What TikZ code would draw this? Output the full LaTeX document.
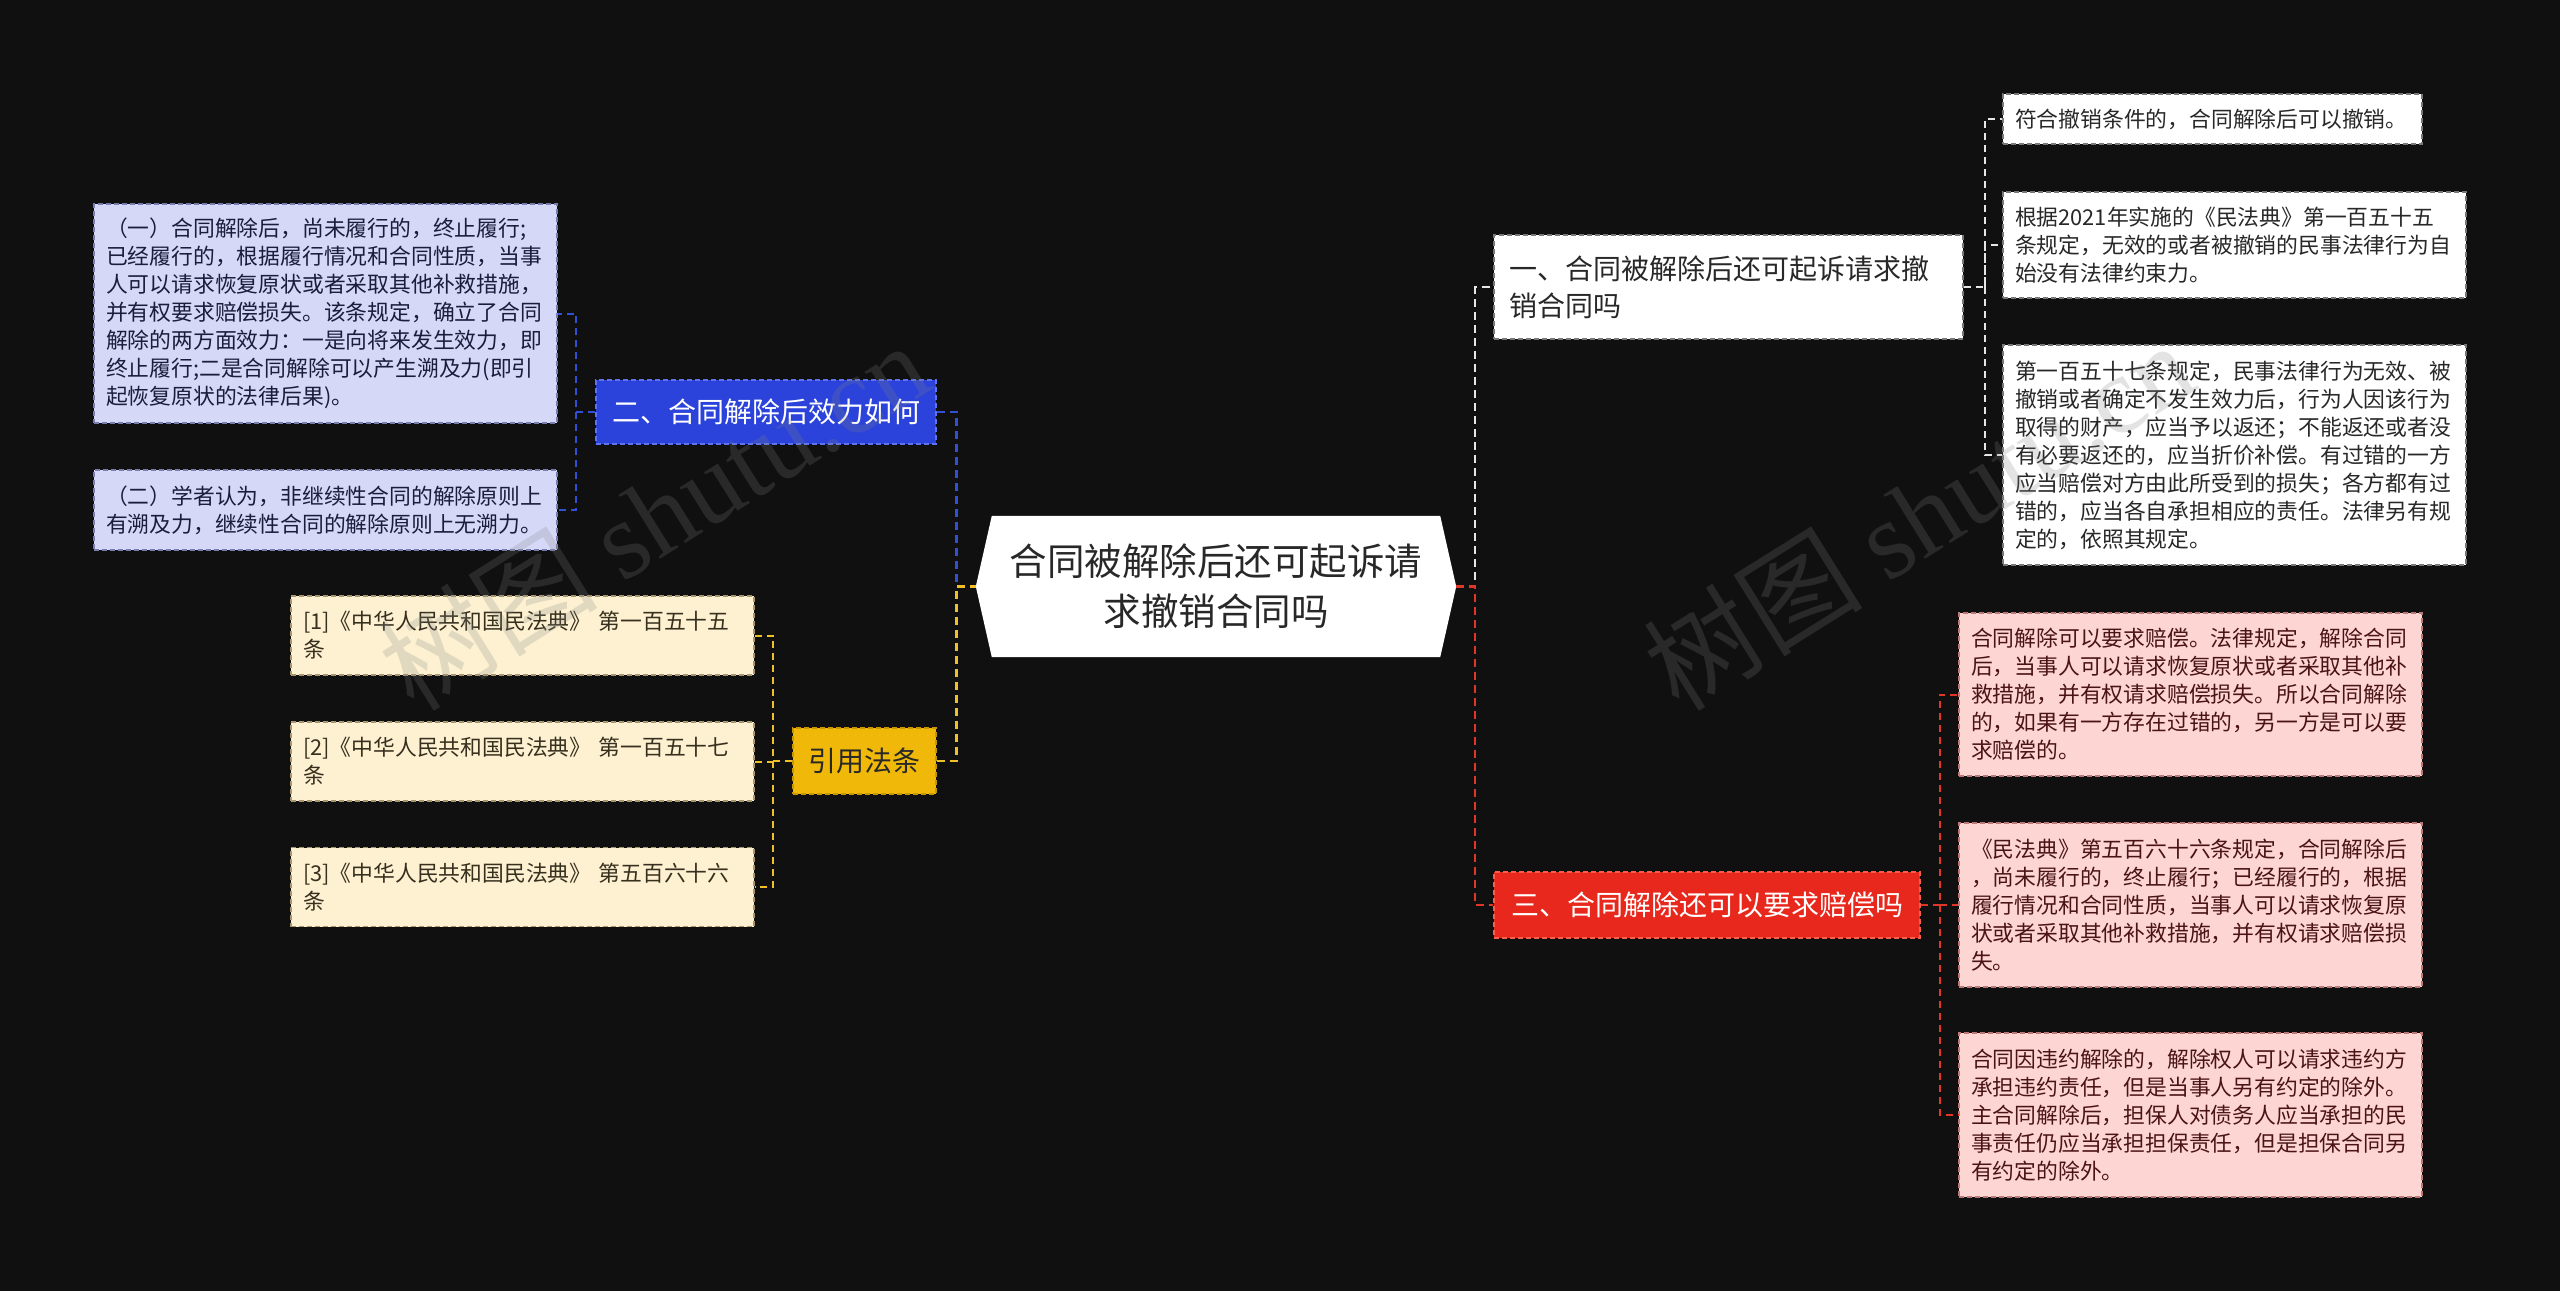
\documentclass[tikz,border=0pt]{standalone}
\usepackage{fontspec}
\setmainfont{Noto Sans CJK SC}
\newfontfamily\wmserif{Liberation Serif}
\usetikzlibrary{backgrounds}
\definecolor{bg}{RGB}{16,16,16}
\definecolor{bnode}{RGB}{43,67,218}
\definecolor{bnodeline}{RGB}{95,115,240}
\definecolor{bbfill}{RGB}{213,217,247}
\definecolor{bbline}{RGB}{120,125,175}
\definecolor{bbtext}{RGB}{28,28,60}
\definecolor{bcol}{RGB}{50,80,215}
\definecolor{ynode}{RGB}{240,185,10}
\definecolor{ynodeline}{RGB}{200,150,0}
\definecolor{cbfill}{RGB}{253,241,210}
\definecolor{cbline}{RGB}{170,150,110}
\definecolor{cbtext}{RGB}{55,48,30}
\definecolor{ycol}{RGB}{240,192,40}
\definecolor{wbline}{RGB}{120,120,120}
\definecolor{wbtext}{RGB}{40,40,40}
\definecolor{wcol}{RGB}{230,230,230}
\definecolor{rnode}{RGB}{232,40,28}
\definecolor{rnodeline}{RGB}{250,95,75}
\definecolor{pbfill}{RGB}{253,214,212}
\definecolor{pbline}{RGB}{190,120,120}
\definecolor{pbtext}{RGB}{75,20,20}
\definecolor{rcol}{RGB}{225,55,40}
\definecolor{wmgray}{RGB}{130,130,130}
\tikzset{
  box/.style={rectangle, inner xsep=12pt, inner ysep=0pt, align=left,
    font=\fontsize{21.8pt}{28pt}\selectfont, line width=1.2pt, dash pattern=on 5pt off 3pt},
  bluebox/.style={box, fill=bbfill, draw=bbline, text=bbtext},
  creambox/.style={box, fill=cbfill, draw=cbline, text=cbtext},
  whitebox/.style={box, fill=white, draw=wbline, text=wbtext},
  pinkbox/.style={box, fill=pbfill, draw=pbline, text=pbtext},
  topic/.style={rectangle, inner sep=0pt, font=\fontsize{28pt}{37pt}\selectfont,
    line width=1.2pt, dash pattern=on 5pt off 3pt},
  con/.style={line width=2.5pt, dash pattern=on 8pt off 5pt},
  subcon/.style={line width=2pt, dash pattern=on 7pt off 5pt},
  wm/.style={text=wmgray, opacity=0.22, font=\fontsize{110pt}{110pt}\selectfont, inner sep=0pt}
}
\begin{document}
\begin{tikzpicture}[x=1pt,y=-1pt]
\useasboundingbox (0,0) rectangle (2560,1291);
\begin{pgfonlayer}{background}
\fill[bg] (0,0) rectangle (2560,1291);
\end{pgfonlayer}

% central node
\node[rectangle, inner sep=0pt, minimum width=448pt, minimum height=141pt, align=center,
  text=wbtext, font=\fontsize{37.5pt}{50pt}\selectfont] (main) at (1216,586.5)
  {合同被解除后还可起诉请\\求撤销合同吗};
\coordinate (mainL) at ([xshift=-16pt]main.west);
\coordinate (mainR) at ([xshift=16pt]main.east);
\begin{pgfonlayer}{background}
\fill[white] (main.north west) -- (main.north east) -- (mainR) -- (main.south east)
  -- (main.south west) -- (mainL) -- cycle;
\end{pgfonlayer}

% left: blue branch
\node[topic, fill=bnode, draw=bnodeline, text=white, minimum width=340pt, minimum height=64pt]
  (n2) at (766,412) {二、合同解除后效力如何};
\node[bluebox, text width=439pt, minimum height=219pt] (b1) at (325.5,313.5)
  {（一）合同解除后，尚未履行的，终止履行;\\已经履行的，根据履行情况和合同性质，当事\\人可以请求恢复原状或者采取其他补救措施，\\并有权要求赔偿损失。该条规定，确立了合同\\解除的两方面效力：一是向将来发生效力，即\\终止履行;二是合同解除可以产生溯及力(即引\\起恢复原状的法律后果)。};
\node[bluebox, text width=439pt, minimum height=80pt] (b2) at (325.5,510)
  {（二）学者认为，非继续性合同的解除原则上\\有溯及力，继续性合同的解除原则上无溯力。};

% left: yellow branch
\node[topic, fill=ynode, draw=ynodeline, text=wbtext, minimum width=143pt, minimum height=66pt]
  (cite) at (864.5,761) {引用法条};
\node[creambox, text width=439pt, minimum height=79pt] (c1) at (522.5,635.5)
  {[1]《中华人民共和国民法典》 第一百五十五\\条};
\node[creambox, text width=439pt, minimum height=79pt] (c2) at (522.5,761.5)
  {[2]《中华人民共和国民法典》 第一百五十七\\条};
\node[creambox, text width=439pt, minimum height=79pt] (c3) at (522.5,887)
  {[3]《中华人民共和国民法典》 第五百六十六\\条};

% right: white branch
\node[topic, fill=white, draw=wbline, text=wbtext, align=left, inner xsep=15pt,
  text width=439pt, minimum height=104pt] (n1) at (1728.5,287)
  {一、合同被解除后还可起诉请求撤\\销合同吗};
\node[whitebox, text width=395pt, minimum height=50pt] (w1) at (2212.5,119)
  {符合撤销条件的，合同解除后可以撤销。};
\node[whitebox, text width=439pt, minimum height=106pt] (w2) at (2234.5,245)
  {根据2021年实施的《民法典》第一百五十五\\条规定，无效的或者被撤销的民事法律行为自\\始没有法律约束力。};
\node[whitebox, text width=439pt, minimum height=220pt] (w3) at (2234.5,455)
  {第一百五十七条规定，民事法律行为无效、被\\撤销或者确定不发生效力后，行为人因该行为\\取得的财产，应当予以返还；不能返还或者没\\有必要返还的，应当折价补偿。有过错的一方\\应当赔偿对方由此所受到的损失；各方都有过\\错的，应当各自承担相应的责任。法律另有规\\定的，依照其规定。};

% right: red branch
\node[topic, fill=rnode, draw=rnodeline, text=white, minimum width=426pt, minimum height=66pt]
  (n3) at (1707,905) {三、合同解除还可以要求赔偿吗};
\node[pinkbox, text width=439pt, minimum height=163pt] (p1) at (2190.5,694.5)
  {合同解除可以要求赔偿。法律规定，解除合同\\后，当事人可以请求恢复原状或者采取其他补\\救措施，并有权请求赔偿损失。所以合同解除\\的，如果有一方存在过错的，另一方是可以要\\求赔偿的。};
\node[pinkbox, text width=439pt, minimum height=164pt] (p2) at (2190.5,905)
  {《民法典》第五百六十六条规定，合同解除后\\，尚未履行的，终止履行；已经履行的，根据\\履行情况和合同性质，当事人可以请求恢复原\\状或者采取其他补救措施，并有权请求赔偿损\\失。};
\node[pinkbox, text width=439pt, minimum height=164pt] (p3) at (2190.5,1115)
  {合同因违约解除的，解除权人可以请求违约方\\承担违约责任，但是当事人另有约定的除外。\\主合同解除后，担保人对债务人应当承担的民\\事责任仍应当承担担保责任，但是担保合同另\\有约定的除外。};

% connectors: blue
\draw[subcon, draw=bcol] (n2.west) -- ++(-19,0) coordinate (bj) |- (b1.east);
\draw[subcon, draw=bcol] (bj) |- (b2.east);
\draw[con, draw=bcol] (n2.east) -- ++(20,0) |- (mainL);
% connectors: yellow
\draw[subcon, draw=ycol] (cite.west) -- ++(-19,0) coordinate (cj) |- (c1.east);
\draw[subcon, draw=ycol] (cj) |- (c2.east);
\draw[subcon, draw=ycol] (cj) |- (c3.east);
\draw[con, draw=ycol] (cite.east) -- ++(20,0) |- (mainL);
% connectors: white
\draw[con, draw=wcol] (mainR) -- ++(19,0) |- (n1.west);
\draw[subcon, draw=wcol] (n1.east) -- ++(21,0) coordinate (wj) |- (w1.west);
\draw[subcon, draw=wcol] (wj) |- (w2.west);
\draw[subcon, draw=wcol] (wj) |- (w3.west);
% connectors: red
\draw[con, draw=rcol] (mainR) -- ++(19,0) |- (n3.west);
\draw[subcon, draw=rcol] (n3.east) -- ++(19,0) coordinate (pj) |- (p1.west);
\draw[subcon, draw=rcol] (pj) |- (p2.west);
\draw[subcon, draw=rcol] (pj) |- (p3.west);

% watermarks
\node[wm, rotate=32] (wm1) at (653,515) {树图 {\wmserif shutu.cn}};
\node[wm, rotate=32] (wm2) at (1918,515) {树图 {\wmserif shutu.cn}};
\end{tikzpicture}
\end{document}
